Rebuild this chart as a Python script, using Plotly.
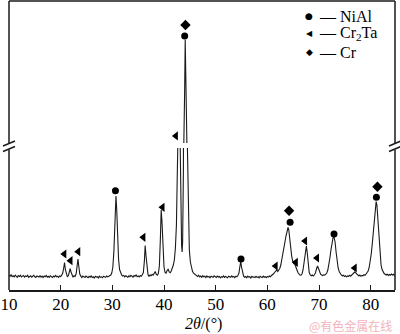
import plotly.graph_objects as go

# ---------------- data ----------------
two_theta = [
    10.0, 10.2, 10.4, 10.6, 10.8, 11.0, 11.2, 11.4, 11.6, 11.8, 12.0, 12.2, 12.4, 12.6, 12.8,
    13.0, 13.2, 13.4, 13.6, 13.8, 14.0, 14.2, 14.4, 14.6, 14.8, 15.0, 15.2, 15.4, 15.6, 15.8,
    16.0, 16.2, 16.4, 16.6, 16.8, 17.0, 17.2, 17.4, 17.6, 17.8, 18.0, 18.2, 18.4, 18.6, 18.8,
    19.0, 19.2, 19.4, 19.6, 19.8, 20.0, 20.2, 20.4, 20.6, 20.75, 20.9, 21.1, 21.3, 21.5, 21.7,
    21.85, 22.0, 22.2, 22.4, 22.6, 22.8, 23.0, 23.2, 23.35, 23.5, 23.7, 23.9, 24.1, 24.3, 24.5,
    24.7, 24.9, 25.1, 25.3, 25.5, 25.7, 25.9, 26.1, 26.3, 26.5, 26.7, 26.9, 27.1, 27.3, 27.5,
    27.7, 27.9, 28.1, 28.3, 28.5, 28.7, 28.9, 29.1, 29.3, 29.5, 29.7, 29.9, 30.1, 30.3, 30.45,
    30.6, 30.7, 30.85, 31.0, 31.2, 31.4, 31.6, 31.8, 32.0, 32.2, 32.4, 32.6, 32.8, 33.0, 33.2,
    33.4, 33.6, 33.8, 34.0, 34.2, 34.4, 34.6, 34.8, 35.0, 35.2, 35.4, 35.6, 35.8, 36.0, 36.2,
    36.35, 36.5, 36.7, 36.9, 37.1, 37.3, 37.5, 37.7, 37.9, 38.1, 38.3, 38.5, 38.7, 38.9, 39.1,
    39.3, 39.45, 39.6, 39.8, 40.0, 40.2, 40.4, 40.6, 40.8, 41.0, 41.2, 41.4, 41.6, 41.8, 42.0,
    42.2, 42.4, 42.6, 42.75, 42.9, 43.05, 43.2, 43.4, 43.5, 43.6, 43.75, 43.9, 44.0, 44.1, 44.2,
    44.35, 44.5, 44.7, 44.9, 45.1, 45.3, 45.5, 45.7, 45.9, 46.1, 46.3, 46.5, 46.7, 46.9, 47.1,
    47.3, 47.5, 47.7, 47.9, 48.1, 48.3, 48.5, 48.7, 48.9, 49.1, 49.3, 49.5, 49.7, 49.9, 50.1,
    50.3, 50.5, 50.7, 50.9, 51.1, 51.3, 51.5, 51.7, 51.9, 52.1, 52.3, 52.5, 52.7, 52.9, 53.1,
    53.3, 53.5, 53.7, 53.9, 54.1, 54.3, 54.5, 54.7, 54.85, 55.0, 55.2, 55.4, 55.6, 55.8, 56.0,
    56.2, 56.4, 56.6, 56.8, 57.0, 57.2, 57.4, 57.6, 57.8, 58.0, 58.2, 58.4, 58.6, 58.8, 59.0,
    59.2, 59.4, 59.6, 59.8, 60.0, 60.2, 60.4, 60.6, 60.8, 61.0, 61.2, 61.4, 61.6, 61.8, 62.0,
    62.2, 62.4, 62.6, 62.8, 63.0, 63.2, 63.4, 63.6, 63.8, 64.0, 64.15, 64.3, 64.5, 64.7, 64.9,
    65.1, 65.3, 65.5, 65.7, 65.9, 66.1, 66.3, 66.5, 66.7, 66.9, 67.1, 67.35, 67.55, 67.7, 67.9,
    68.1, 68.3, 68.5, 68.7, 68.9, 69.1, 69.3, 69.5, 69.7, 69.9, 70.1, 70.3, 70.5, 70.7, 70.9,
    71.1, 71.3, 71.5, 71.7, 71.9, 72.1, 72.3, 72.5, 72.7, 72.9, 73.1, 73.3, 73.5, 73.7, 73.9,
    74.1, 74.3, 74.5, 74.7, 74.9, 75.1, 75.3, 75.5, 75.7, 75.9, 76.1, 76.3, 76.5, 76.7, 76.9,
    77.1, 77.3, 77.5, 77.7, 77.9, 78.1, 78.3, 78.5, 78.7, 78.9, 79.1, 79.3, 79.5, 79.7, 79.9,
    80.1, 80.3, 80.5, 80.7, 80.9, 81.05, 81.2, 81.4, 81.6, 81.8, 82.0, 82.2, 82.4, 82.6, 82.8,
    83.0, 83.2, 83.4, 83.6, 83.8, 84.0, 84.2, 84.4, 84.6, 84.8,
]
intensity = [
    145, 138, 152, 134, 142, 131, 148, 139, 127, 144, 135, 147, 130, 139, 145,
    129, 141, 134, 147, 127, 138, 143, 128, 137, 146, 132, 126, 141, 135, 130,
    144, 128, 139, 124, 140, 132, 146, 129, 137, 127, 142, 134, 125, 140, 130,
    145, 132, 138, 127, 141, 135, 148, 170, 225, 275, 205, 150, 132, 145, 185,
    215, 180, 140, 128, 142, 136, 165, 245, 310, 240, 160, 138, 124, 140, 131,
    126, 139, 129, 122, 136, 128, 141, 125, 133, 120, 137, 128, 134, 121, 139,
    127, 132, 123, 138, 129, 126, 140, 131, 137, 145, 150, 172, 230, 390, 640,
    900, 940, 800, 520, 310, 205, 168, 150, 139, 146, 131, 143, 135, 128, 142,
    133, 147, 136, 129, 144, 138, 150, 133, 141, 130, 145, 137, 152, 175, 290,
    445, 350, 200, 155, 138, 150, 142, 156, 148, 170, 185, 155, 148, 165, 240,
    520, 800, 690, 400, 230, 175, 168, 195, 210, 180, 172, 190, 215, 250, 300,
    420, 650, 1100, 1700, 2300, 1600, 900, 450, 380, 480, 1200, 3200, 6500, 9550, 7000,
    3500, 1500, 700, 400, 280, 220, 190, 168, 160, 150, 141, 135, 148, 130, 139,
    126, 143, 132, 137, 124, 140, 129, 135, 122, 138, 131, 127, 142, 133, 125,
    139, 130, 136, 121, 134, 128, 140, 126, 135, 129, 123, 138, 131, 127, 141,
    129, 135, 124, 138, 132, 145, 170, 240, 285, 230, 160, 138, 127, 135, 122,
    138, 129, 133, 120, 136, 128, 131, 124, 137, 126, 132, 121, 138, 130, 125,
    139, 128, 134, 123, 136, 129, 140, 133, 145, 150, 162, 175, 190, 200, 185,
    195, 215, 250, 300, 360, 420, 480, 540, 590, 625, 600, 520, 420, 340, 290,
    265, 260, 240, 205, 175, 160, 150, 148, 160, 200, 280, 400, 440, 380, 240,
    175, 150, 142, 150, 140, 152, 170, 210, 240, 215, 180, 158, 150, 145, 152,
    148, 158, 170, 200, 250, 320, 400, 470, 520, 530, 480, 380, 280, 220, 185,
    165, 150, 142, 148, 135, 143, 132, 140, 136, 147, 138, 150, 155, 170, 180,
    172, 160, 148, 140, 150, 137, 146, 141, 153, 148, 160, 170, 190, 225, 280,
    360, 460, 580, 720, 840, 885, 850, 700, 500, 340, 250, 205, 180, 165, 158,
    150, 158, 146, 155, 148, 160, 150, 157, 145, 155,
]

# phase markers (x = 2theta, y = intensity), lower and upper (broken) part
nial_x = [30.6, 54.9, 64.4, 72.9, 81.1]
nial_y = [993, 310, 677, 560, 927]
nial_up_x = [44.0]
nial_up_y = [9780]

cr2ta_x = [20.7, 21.9, 23.4, 36.0, 39.7, 61.6, 65.5, 67.3, 69.6, 76.9]
cr2ta_y = [360, 293, 383, 527, 827, 240, 277, 490, 320, 220]
cr2ta_up_x = [42.3]
cr2ta_up_y = [3444]

cr_x = [64.2, 81.3]
cr_y = [793, 1033]
cr_up_x = [44.15]
cr_up_y = [10480]

x_ticks = [10, 20, 30, 40, 50, 60, 70, 80]
phase_names = ["NiAl", "Cr<sub>2</sub>Ta", "Cr"]
phase_glyphs = ["\u25cf", "\u25c0", "\u25c6"]

# ---------------- figure ----------------
W, H = 400, 334
ML, MR, MT, MB = 9, 5, 1, 44
PW, PH = W - ML - MR, H - MT - MB


def px(xp):
    return (xp - ML) / PW


def py(yp):
    return (H - MB - yp) / PH


LOW_TOP = py(148)
UP_BOT = py(143)
BLACK = "#1a1a1a"
SERIF = "Liberation Serif"

fig = go.Figure()
for xa, ya in (("x", "y"), ("x2", "y2")):
    fig.add_trace(go.Scatter(x=two_theta, y=intensity, mode="lines",
                             line=dict(color=BLACK, width=1.1), xaxis=xa, yaxis=ya,
                             showlegend=False, hoverinfo="skip", cliponaxis=True))

marker_sets = [
    (nial_x, nial_y, "circle", 7, "x", "y"),
    (nial_up_x, nial_up_y, "circle", 7, "x2", "y2"),
    (cr2ta_x, cr2ta_y, "triangle-left", 8, "x", "y"),
    (cr2ta_up_x, cr2ta_up_y, "triangle-left", 8, "x2", "y2"),
    (cr_x, cr_y, "diamond", 8, "x", "y"),
    (cr_up_x, cr_up_y, "diamond", 8, "x2", "y2"),
]
for mx, my, sym, size, xa, ya in marker_sets:
    fig.add_trace(go.Scatter(x=mx, y=my, mode="markers", xaxis=xa, yaxis=ya,
                             marker=dict(symbol=sym, size=size, color="black", line=dict(width=0)),
                             showlegend=False, hoverinfo="skip"))

# frame with axis breaks
shapes = []
lw = 1.5
def seg(x0, y0, x1, y1):
    shapes.append(dict(type="line", xref="paper", yref="paper", x0=x0, y0=y0, x1=x1, y1=y1,
                       line=dict(color=BLACK, width=lw)))

seg(0, 1, 1, 1)  # top
for xe in (ML, ML + PW):
    seg(px(xe), 0, px(xe), py(149.5))
    seg(px(xe), py(143.5), px(xe), 1)
    seg(px(xe - 6), py(151.5), px(xe + 6), py(146.5))
    seg(px(xe - 6), py(146.0), px(xe + 6), py(141.0))

annotations = []
# legend
rows_y = [16, 34, 52]
glyph_sizes = [9, 8, 9]
for name, glyph, gs, ry in zip(phase_names, phase_glyphs, glyph_sizes, rows_y):
    annotations.append(dict(xref="paper", yref="paper", x=px(309), y=py(ry), text=glyph,
                            showarrow=False, xanchor="center", yanchor="middle",
                            font=dict(family="DejaVu Sans", size=gs, color="black")))
    annotations.append(dict(xref="paper", yref="paper", x=px(317), y=py(ry), text="\u2014 " + name,
                            showarrow=False, xanchor="left", yanchor="middle",
                            font=dict(family=SERIF, size=16, color="black")))
# axis title
annotations.append(dict(xref="paper", yref="paper", x=px(203), y=py(324),
                        text="<i>2\u03b8</i>/(\u00b0)", showarrow=False,
                        xanchor="center", yanchor="middle",
                        font=dict(family=SERIF, size=16, color="black")))
# watermark
annotations.append(dict(xref="paper", yref="paper", x=px(350), y=py(325),
                        text="@有色金属在线", showarrow=False,
                        xanchor="center", yanchor="middle",
                        font=dict(family="Noto Sans CJK SC", size=12, color="#f3b3bb")))

fig.update_layout(
    width=W, height=H,
    margin=dict(l=ML, r=MR, t=MT, b=MB, pad=0),
    paper_bgcolor="white", plot_bgcolor="white",
    showlegend=False,
    xaxis=dict(domain=[0, 1], anchor="y", range=[10, 84.7],
               showline=True, linecolor=BLACK, linewidth=lw, mirror=False,
               ticks="inside", ticklen=5, tickwidth=1.2, tickcolor=BLACK,
               tickvals=x_ticks, ticktext=[str(v) for v in x_ticks],
               ticklabelstandoff=-2,
               tickfont=dict(family=SERIF, size=17, color="black"),
               showgrid=False, zeroline=False, fixedrange=True),
    xaxis2=dict(domain=[0, 1], anchor="y2", matches="x", visible=False,
                showgrid=False, zeroline=False),
    yaxis=dict(domain=[0, LOW_TOP], range=[0, 1420], visible=False,
               showgrid=False, zeroline=False, fixedrange=True),
    yaxis2=dict(domain=[UP_BOT, 1], range=[3000, 12000], visible=False,
                showgrid=False, zeroline=False, fixedrange=True),
    shapes=shapes,
    annotations=annotations,
)

fig.write_html("out.html", config={"displayModeBar": False},
               post_script="document.body.style.margin='0';document.body.style.overflow='hidden';")
